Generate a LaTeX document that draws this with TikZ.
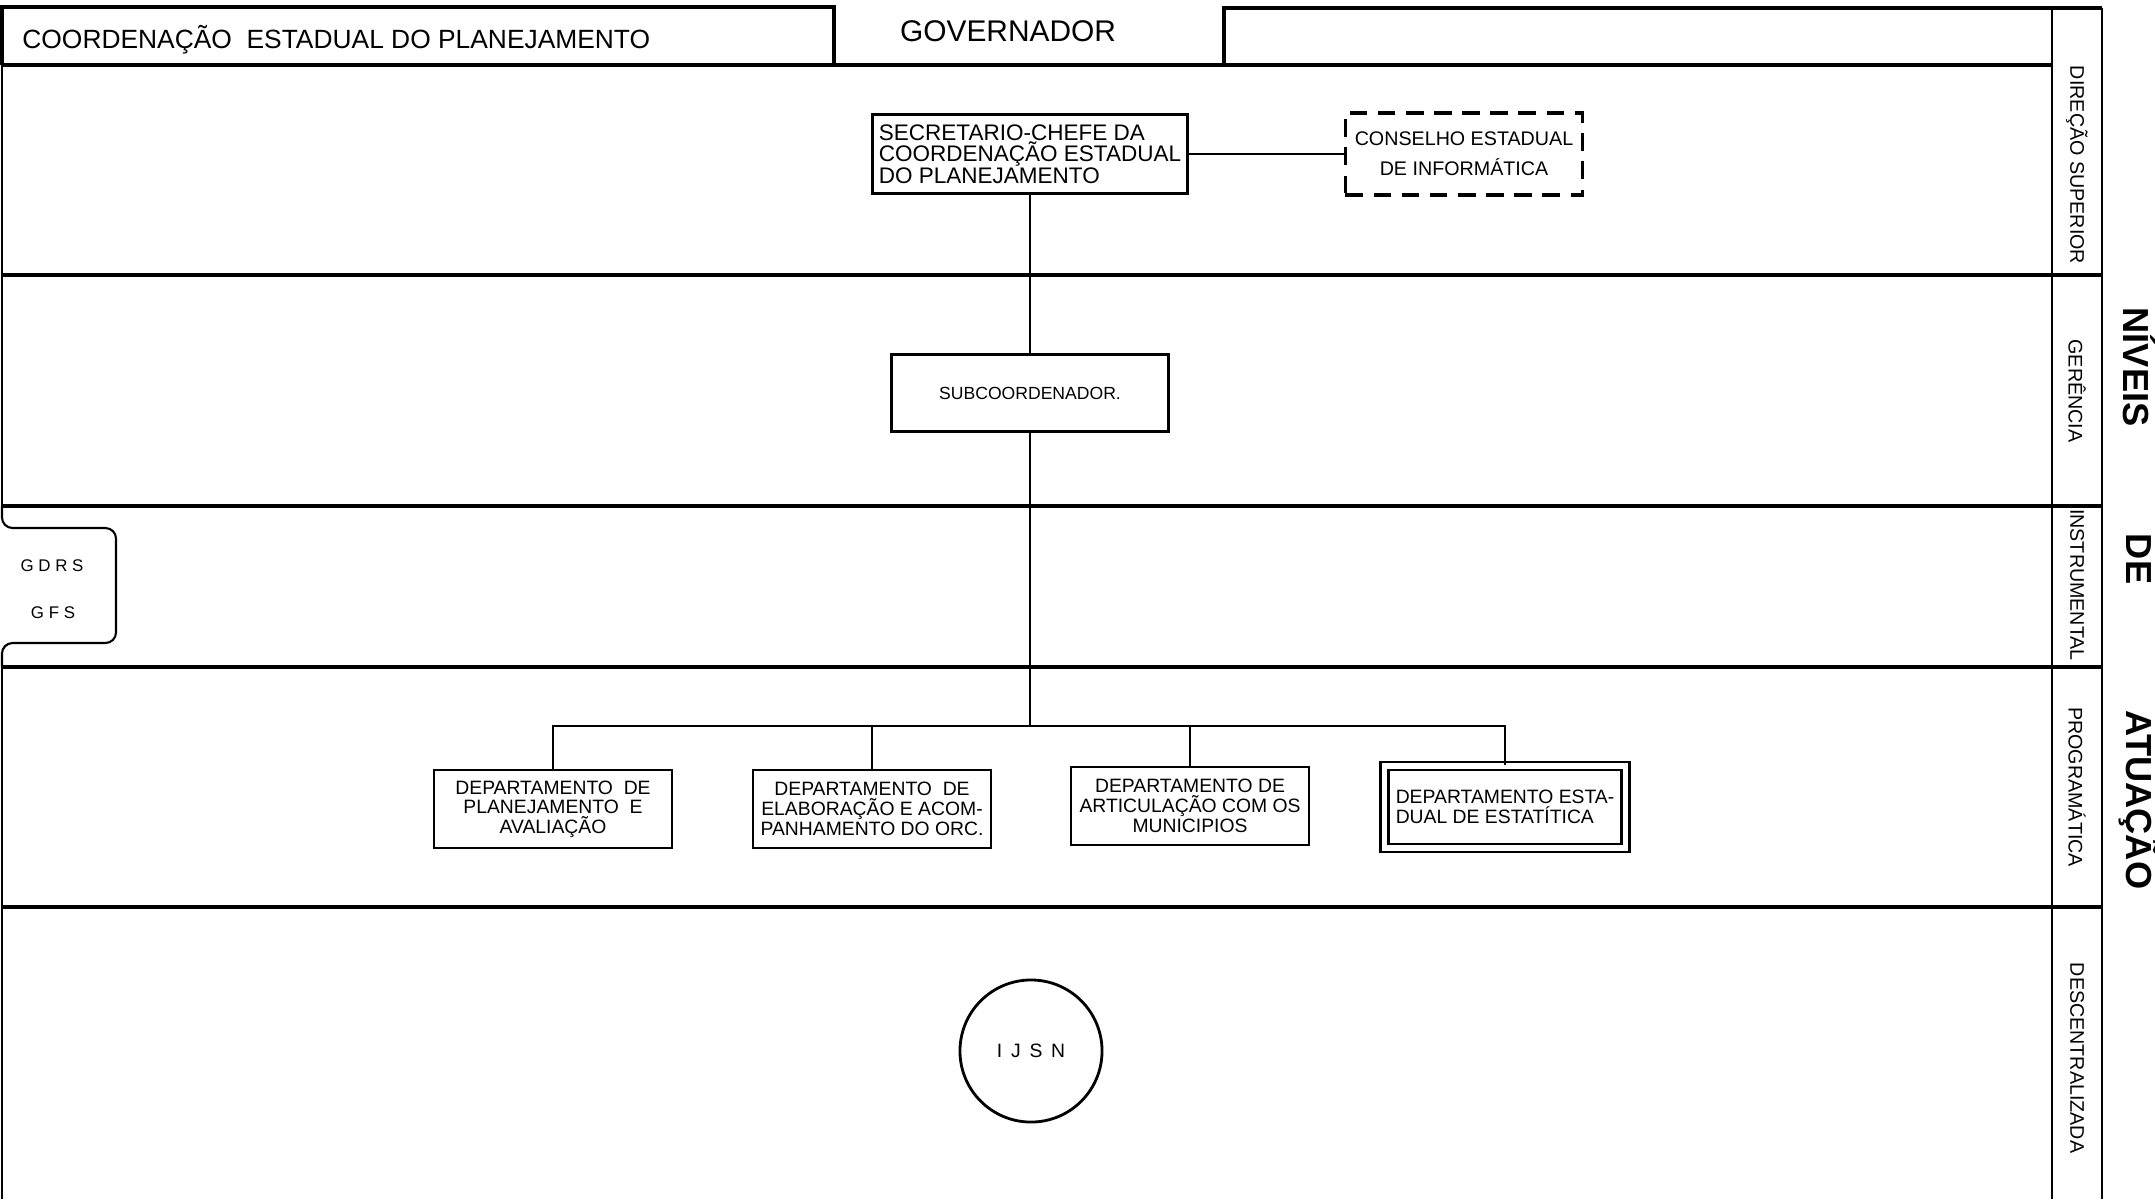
\documentclass[tikz,border=0pt]{standalone}
\usepackage{fontspec}
\setmainfont{Liberation Sans}
\begin{document}
\begin{tikzpicture}[x=0.01cm,y=-0.01cm,
        band/.style={line width=0.9pt},
        rule/.style={line width=0.6pt},
        unit/.style={draw,line width=0.8pt,inner sep=1pt,align=center,minimum width=2.38cm,minimum height=0.78cm,font=\fontsize{5.5}{5.6}\selectfont},
        lvl/.style={rotate=-90,font=\fontsize{5.6}{6}\selectfont},
        big/.style={rotate=-90,font=\fontsize{10.3}{12}\selectfont\bfseries},
        link/.style={line width=0.55pt}]
        \useasboundingbox (0,0) rectangle (2155,1199);
        \draw[band] (2,65) -- (2,7) -- (834,7) -- (834,65);
        \draw[band] (1224,65) -- (1224,8) -- (2102,8);
        \draw[rule] (2052,8) -- (2052,1199);
        \draw[rule] (2102,8) -- (2102,1199);
        \draw[band] (2,65) -- (2052,65);
        \draw[band] (2,275) -- (2102,275);
        \draw[band] (2,506) -- (2102,506);
        \draw[band] (2,667) -- (2102,667);
        \draw[band] (2,907) -- (2102,907);
        \draw[rule] (2,65) -- (2,506);
        \draw[rule,rounded corners=3] (2,506) -- (2,528) -- (116,528) -- (116,643) -- (2,643) -- (2,667);
        \draw[rule] (2,667) -- (2,1199);

        \node[anchor=west,font=\fontsize{7.5}{8}\selectfont] (coord) at (10,40) {COORDENAÇÃO\ \ ESTADUAL DO PLANEJAMENTO};
        \node[font=\fontsize{8.5}{10}\selectfont] (gov) at (1008,31) {GOVERNADOR};

        \node[unit,align=left,line width=1pt,minimum width=3.15cm,minimum height=0.79cm,font=\fontsize{6.4}{6.1}\selectfont] (sec) at (1030,154) {SECRETARIO-CHEFE DA\\COORDENAÇÃO ESTADUAL\\DO PLANEJAMENTO};
        \node[unit,dashed,dash pattern=on 5pt off 3pt,line width=1pt,minimum width=2.37cm,minimum height=0.82cm,font=\fontsize{5.6}{8.5}\selectfont] (cons) at (1464,154) {CONSELHO ESTADUAL\\DE INFORMÁTICA};
        \node[unit,minimum width=2.77cm,minimum height=0.77cm,font=\fontsize{5}{6}\selectfont] (sub) at (1030,393) {SUBCOORDENADOR.};

        \node[unit] (dplan) at (553,809) {DEPARTAMENTO\ \ DE\\PLANEJAMENTO\ \ E\\AVALIAÇÃO};
        \node[unit] (delab) at (872,809) {DEPARTAMENTO\ \ DE\\ELABORAÇÃO E ACOM-\\PANHAMENTO DO ORC.};
        \node[unit] (dart) at (1190,806) {DEPARTAMENTO DE\\ARTICULAÇÃO COM OS\\MUNICIPIOS};
        \node[unit,align=left,double,double distance=1.5pt,line width=0.7pt,minimum width=2.41cm,minimum height=0.82cm] (dest) at (1505,807) {DEPARTAMENTO ESTA-\\DUAL DE ESTATÍTICA};

        \node[draw,circle,line width=0.8pt,minimum size=1.42cm,font=\fontsize{5.5}{6}\selectfont] (ijsn) at (1031,1051) {I\hspace{2.5pt}J\hspace{2.5pt}S\hspace{2.5pt}N};

        \node[font=\fontsize{4.8}{5}\selectfont] (gdrs) at (52,566) {G D R S};
        \node[font=\fontsize{4.8}{5}\selectfont] (gfs) at (53,613) {G F S};

        \node[lvl] (dir) at (2077,165) {DIREÇÃO SUPERIOR};
        \node[lvl] (ger) at (2077,391) {GERÊNCIA};
        \node[lvl] (ins) at (2077,585) {INSTRUMENTAL};
        \node[lvl] (prg) at (2077,787) {PROGRAMÁTICA};
        \node[lvl] (dsc) at (2077,1058) {DESCENTRALIZADA};
        \node[big] (niv) at (2139,367) {NÍVEIS};
        \node[big] (de) at (2139,559) {DE};
        \node[big] (atu) at (2139,800) {ATUAÇÃO};

        \coordinate (bus) at (1030,726);
        \draw[link] (sec.east) -- (cons.west);
        \draw[link] (sec) -- (sub);
        \draw[link] (sub) -- (bus);
        \draw[link] (dplan.north) |- (bus);
        \draw[link] (delab.north) |- (bus);
        \draw[link] (dart.north) |- (bus);
        \draw[link] (dest.north) |- (bus);
\end{tikzpicture}
\end{document}
